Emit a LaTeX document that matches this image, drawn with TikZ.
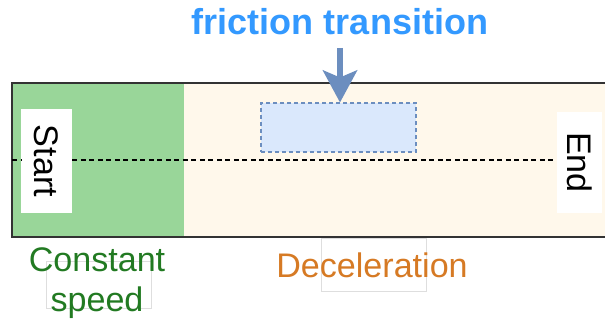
\documentclass[tikz,border=0pt]{standalone}
\usepackage{fontspec}
\setmainfont{Liberation Sans}
\usetikzlibrary{arrows.meta}

\definecolor{zonegreen}{RGB}{153,214,153}
\definecolor{zonepeach}{RGB}{255,248,235}
\definecolor{framegray}{RGB}{51,51,51}
\definecolor{fricfill}{RGB}{218,232,252}
\definecolor{fricdraw}{RGB}{108,142,191}
\definecolor{titleblue}{RGB}{51,153,255}
\definecolor{labgreen}{RGB}{34,122,34}
\definecolor{laborange}{RGB}{214,122,36}

\tikzset{
	endbox/.style={fill=white, inner sep=0pt, rotate=-90, font=\fontsize{19.4}{23}\selectfont},
	zonelabel/.style={align=center, font=\fontsize{19.4}{23}\selectfont},
	ghost/.style={draw=black!13, line width=0.4pt}
}

\begin{document}
\begin{tikzpicture}

	\useasboundingbox (0,0) rectangle (12.1,6.5);

	% zones of the track
	\fill [zonepeach] (0.24,1.76) rectangle (12.1,4.84);
	\fill [zonegreen] (0.24,1.76) rectangle (3.68,4.84);
	\draw [framegray, line width=1.1pt] (12.1,4.84) -- (0.24,4.84) -- (0.24,1.76) -- (12.1,1.76);

	\coordinate (L) at (0.24,3.3);

	\node (S) [endbox, minimum width=2.08cm, minimum height=1.02cm] at (0.93,3.28) {Start};
	\node (E) [endbox, minimum width=2.02cm, minimum height=0.9cm] at (11.59,3.25) {End};

	% rotated boxes: south is the left side, north the right side
	\draw [line width=0.85pt, dash pattern=on 0.1cm off 0.07cm] (L) -- (S.south |- L);
	\draw [line width=0.85pt, dash pattern=on 0.1cm off 0.07cm] (S.north |- L) -- (E.south |- L);

	\node (F) [draw=fricdraw, fill=fricfill, dash pattern=on 0.08cm off 0.06cm, line width=0.6pt, minimum width=3.1cm, minimum height=0.98cm] at (6.77,3.95) {};

	\node (T) [titleblue, font=\fontsize{20.5}{24}\selectfont\bfseries] at (6.8,6.06) {friction transition};
	\coordinate (A) at (6.8,5.54);
	\draw [-{Stealth[length=0.64cm, width=0.68cm, inset=0.14cm]}, fricdraw, line width=0.12cm] (A) to (F.north -| A);

	% faint frames behind the labels
	\draw [ghost] (0.92,1.28) rectangle (3.02,0.34);
	\draw [ghost] (6.42,1.74) rectangle (8.52,0.68);

	\node (C) [zonelabel, labgreen] at (1.94,0.84) {Constant\\speed};
	\node (D) [zonelabel, laborange] at (7.44,1.2) {Deceleration};

\end{tikzpicture}
\end{document}
